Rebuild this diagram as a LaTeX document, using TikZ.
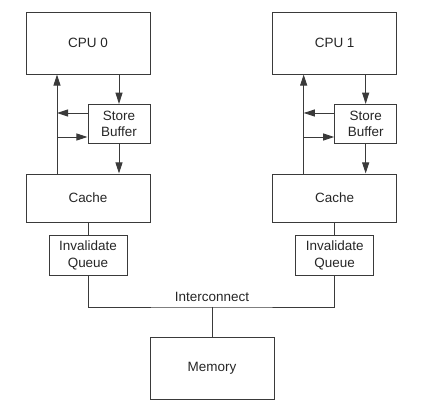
\documentclass[tikz,border=0pt]{standalone}
\usepackage{fontspec}
\setmainfont{Liberation Sans}
\usetikzlibrary{arrows.meta, positioning, calc}
\definecolor{linegray}{HTML}{3a3a3a}
\definecolor{textdark}{HTML}{262626}
\tikzset{
  unitbox/.style={draw=linegray, line width=0.8pt, align=center,
              text=textdark, font=\fontsize{11.5}{14}\selectfont,
              inner sep=0pt},
  bigunit/.style={unitbox, minimum width=3.72cm, minimum height=1.86cm},
  cachebox/.style={unitbox, minimum width=3.72cm, minimum height=1.44cm},
  smallunit/.style={unitbox, minimum width=#1, minimum height=1.18cm},
  flowarr/.style={-{Triangle[length=9.5pt, width=6pt]}, draw=linegray, line width=0.8pt},
  wire/.style={draw=linegray, line width=0.8pt},
}

\begin{document}
\begin{tikzpicture}
  \useasboundingbox (0,0) rectangle (13.44,-12.42);

  % CPU 0 side
  \node[bigunit]            (cpu0)   at (2.64,-1.29) {CPU 0};
  \node[smallunit=1.86cm]   (sb0)    at (3.57,-3.72) {Store\\Buffer};
  \node[cachebox]           (cache0) at (2.64,-5.94) {Cache};
  \node[smallunit=2.34cm]   (iq0)    at (2.64,-7.66) {Invalidate\\Queue};
  \coordinate (up0) at (1.71,0);

  % CPU 1 side
  \node[bigunit]            (cpu1)   at (10.04,-1.29) {CPU 1};
  \node[smallunit=1.86cm]   (sb1)    at (10.97,-3.72) {Store\\Buffer};
  \node[cachebox]           (cache1) at (10.04,-5.94) {Cache};
  \node[smallunit=2.34cm]   (iq1)    at (10.04,-7.66) {Invalidate\\Queue};
  \coordinate (up1) at (9.11,0);

  % Memory
  \node[bigunit]            (mem)    at (6.36,-11.04) {Memory};
  \coordinate (bus) at (6.36,-9.21);

  % Arrows
  \foreach \i in {0,1} {
    \coordinate (sbout\i) at ($(sb\i.west)+(0,0.33)$);
    \coordinate (sbin\i)  at ($(sb\i.west)+(0,-0.39)$);
    \draw[flowarr] (cpu\i.south -| sb\i) -- (sb\i.north);
    \draw[flowarr] (sb\i.south) -- (cache\i.north -| sb\i);
    \draw[flowarr] (cache\i.north -| up\i) -- (cpu\i.south -| up\i);
    \draw[flowarr] (sbout\i) -- (sbout\i -| up\i);
    \draw[flowarr] (sbin\i -| up\i) -- (sbin\i);
    \draw[wire] (cache\i.south) -- (iq\i.north);
  }

  % Interconnect
  \draw[wire] (iq0.south) |- (bus) -| (iq1.south);
  \draw[wire] (bus) -- (mem.north);
  \node[font=\fontsize{11.5}{14}\selectfont, text=textdark, above=1pt of bus] (icn) {Interconnect};
\end{tikzpicture}
\end{document}
